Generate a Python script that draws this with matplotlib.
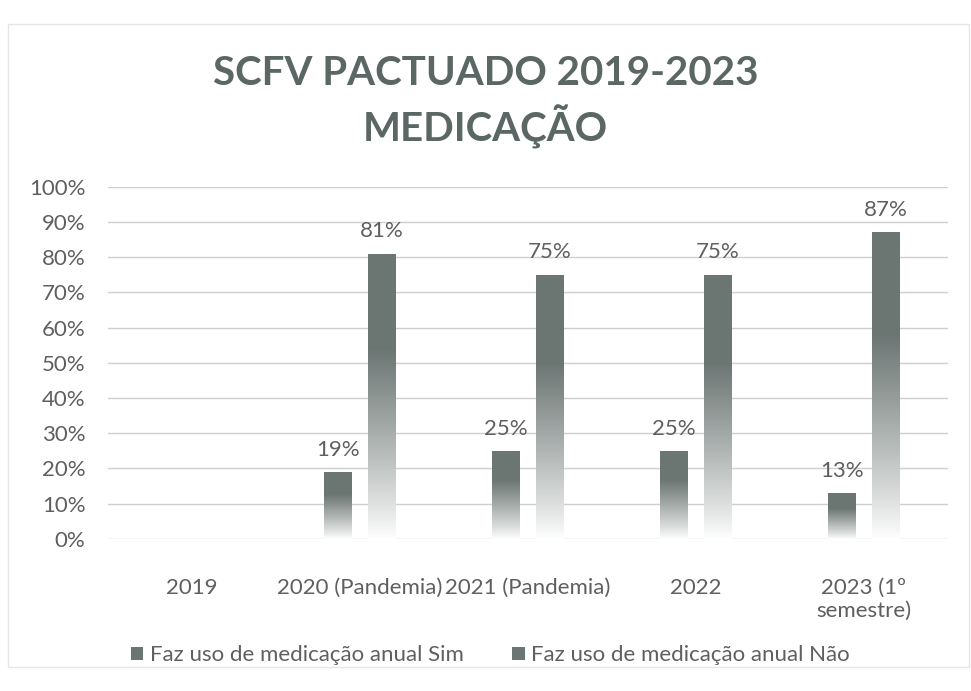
import matplotlib
matplotlib.use('Agg')
import matplotlib.pyplot as plt
import matplotlib.patches as mpatches
import numpy as np

categories = ['2019', '2020 (Pandemia)', '2021 (Pandemia)', '2022', '2023 (1º\nsemestre)']
sim = [np.nan, 19, 25, 25, 13]
nao = [np.nan, 81, 75, 75, 87]
series_names = ['Faz uso de medicação anual Sim', 'Faz uso de medicação anual Não']
yticks = [0, 10, 20, 30, 40, 50, 60, 70, 80, 90, 100]

plt.rcParams['font.family'] = ['Lato', 'DejaVu Sans']

bar_color = np.array([0.42, 0.46, 0.45])
text_color = '#5f5f5f'

fig = plt.figure(figsize=(9.71, 6.91), dpi=100)
ax = fig.add_axes([0.111, 0.22, 0.865, 0.51])

x = np.arange(len(categories))
w = 0.165
off = 0.13


def gradient_bars(xs, vals, label):
	bars = ax.bar(xs, vals, width=w, facecolor='none', edgecolor='none', label=label)
	t = np.linspace(0, 1, 256).reshape(-1, 1)
	# t=0 bottom (white) -> t=1 top (dark)
	mix = np.clip(t * 1.5, 0, 1) ** 0.9
	img = np.ones((256, 1, 3)) * (1 - mix[..., None]) + bar_color * mix[..., None]
	for b, v in zip(bars, vals):
		if np.isnan(v):
			continue
		x0 = b.get_x()
		im = ax.imshow(img, extent=[x0, x0 + w, 0, v], origin='lower',
					   aspect='auto', zorder=2)
		im.set_clip_path(b)
		ax.text(x0 + w / 2, v + 3.5, '%d%%' % v, ha='center', va='bottom',
				fontsize=16, color=text_color)
	return bars


gradient_bars(x - off, sim, series_names[0])
gradient_bars(x + off, nao, series_names[1])

ax.set_xlim(-0.5, len(categories) - 0.5)
ax.set_ylim(0, 100)
ax.set_yticks(yticks)
ax.set_yticklabels(['%d%%' % v for v in yticks], fontsize=16, color=text_color)
ax.set_xticks(x)
ax.set_xticklabels(categories, fontsize=16, color=text_color)
ax.tick_params(length=0)
ax.tick_params(axis='x', pad=28)
ax.tick_params(axis='y', pad=16)
ax.grid(axis='y', color='#cfcfcf', linewidth=1)
ax.set_axisbelow(True)
[ax.spines[s].set_visible(False) for s in ax.spines]

fig.text(0.5, 0.852, 'SCFV PACTUADO 2019-2023\nMEDICAÇÃO', ha='center', va='center',
		 fontsize=29, fontweight='bold', color='#5b6764', linespacing=1.35)

handles = [mpatches.Patch(facecolor=bar_color, edgecolor='none'),
		   mpatches.Patch(facecolor=bar_color, edgecolor='none')]
fig.legend(handles, series_names, loc='center', bbox_to_anchor=(0.505, 0.052), ncol=2,
		   frameon=False, fontsize=16, labelcolor=text_color, handlelength=0.55,
		   handleheight=0.55, columnspacing=2.2, handletextpad=0.3)

fig.add_artist(mpatches.Rectangle((0.008, 0.035), 0.99, 0.93, transform=fig.transFigure,
								  fill=False, edgecolor='#e6e6e6', linewidth=1))

fig.savefig('out.png', dpi=100)
